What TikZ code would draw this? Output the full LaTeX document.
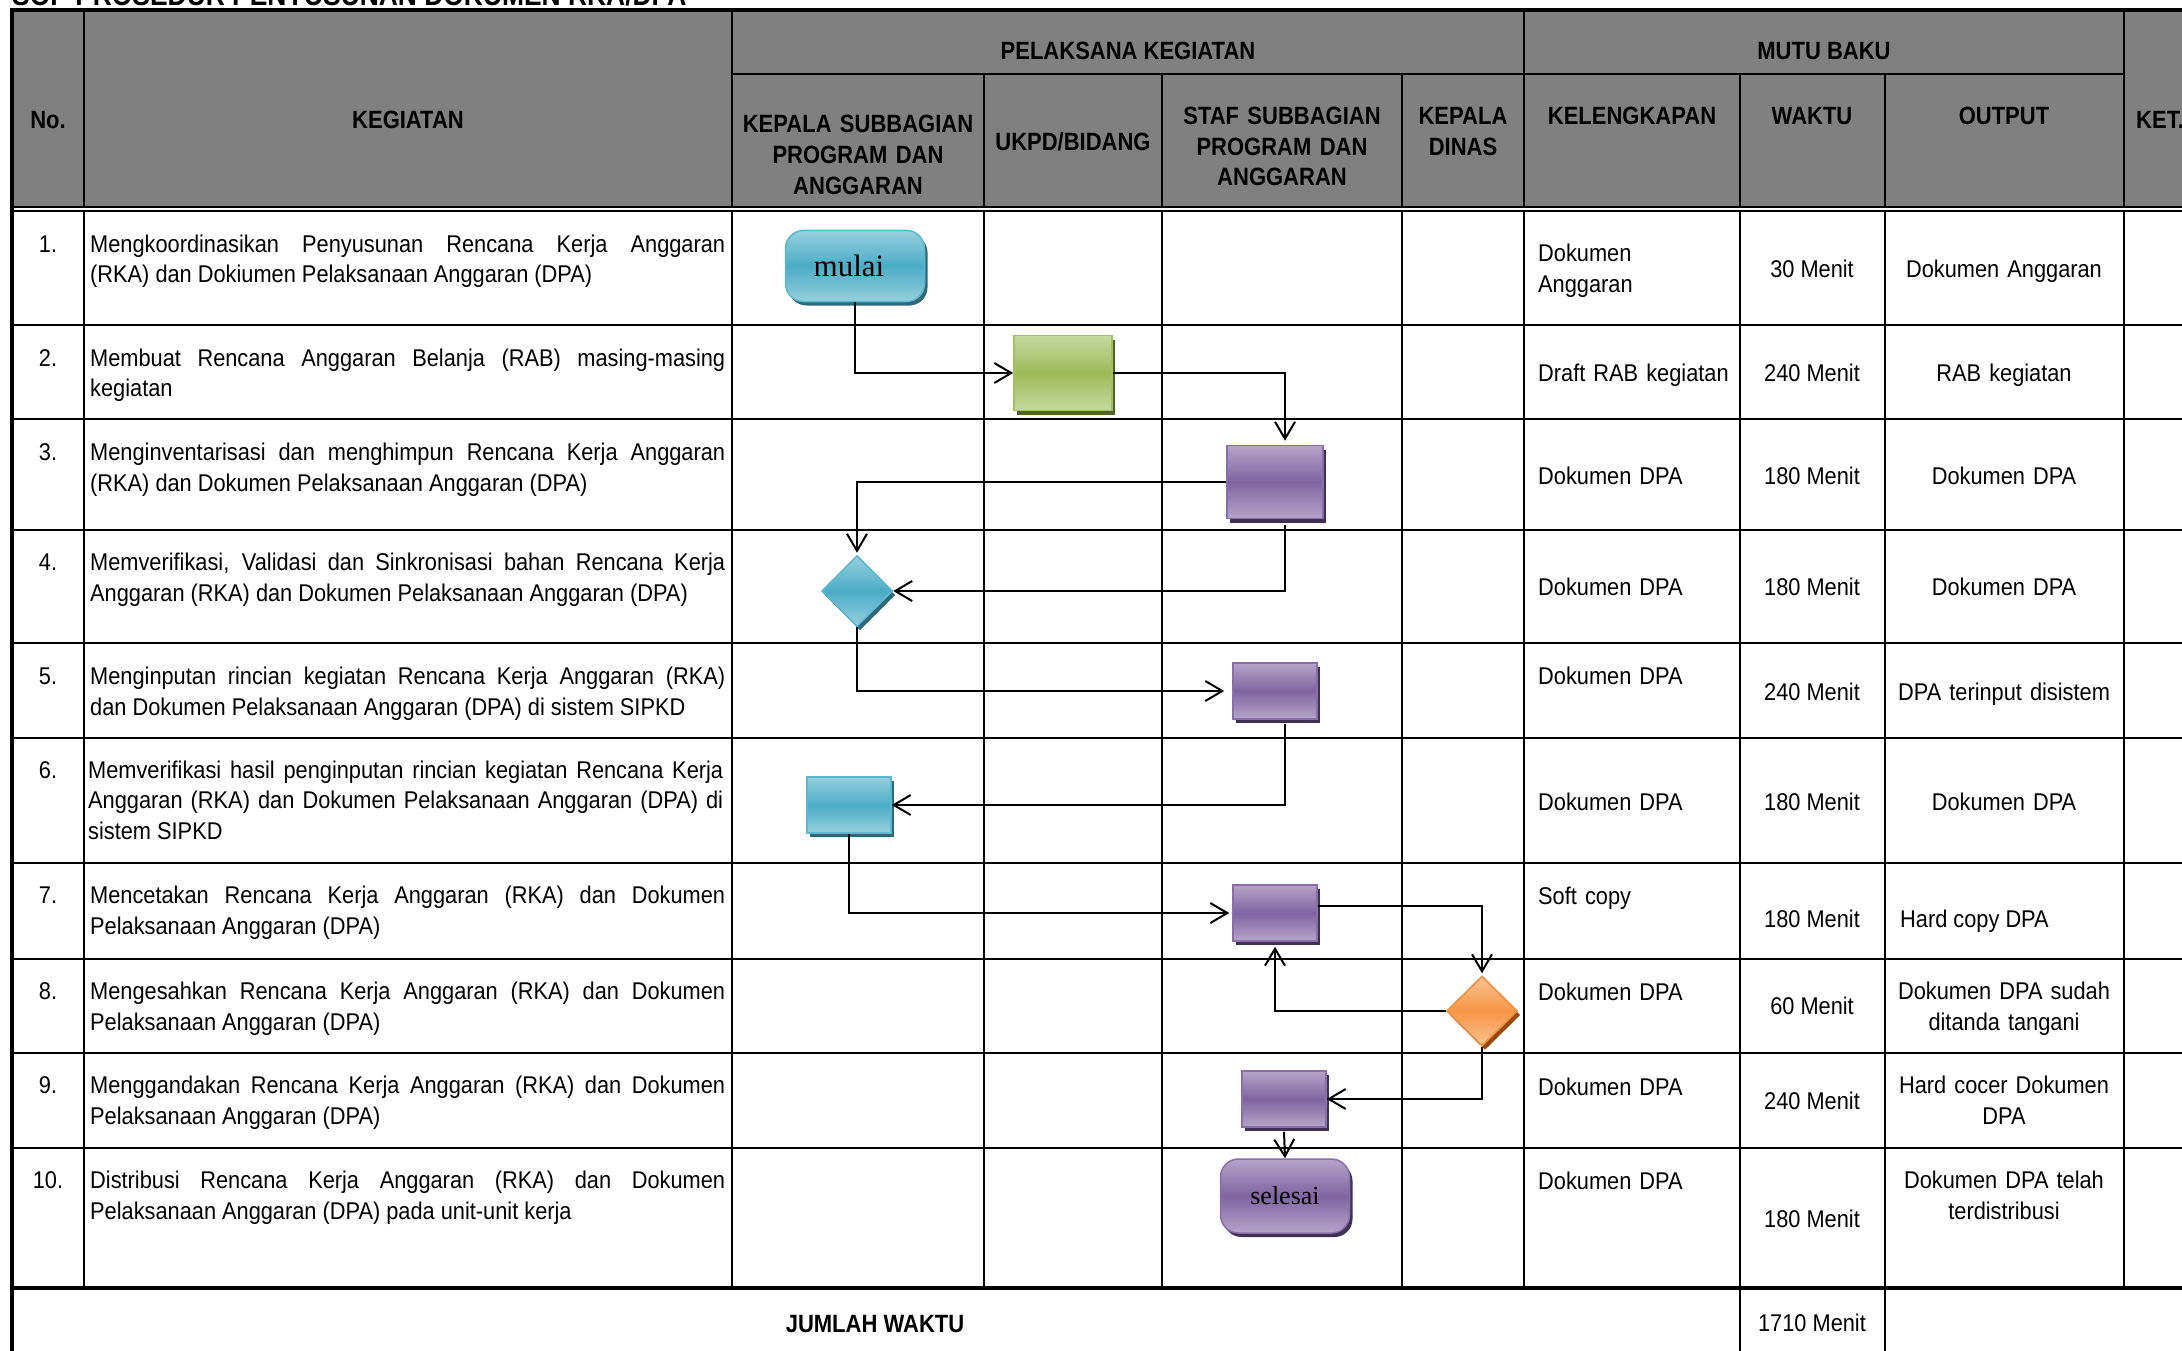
\documentclass[tikz,border=0pt]{standalone}
\usepackage{fontspec}
\setmainfont{Liberation Sans}
\newfontfamily\headfont{Liberation Sans}[FakeStretch=0.88]
\newfontfamily\cellfont{Liberation Sans}[FakeStretch=0.9]
\newfontfamily\termfont{Liberation Serif}
\usetikzlibrary{shapes.geometric,shadows,arrows.meta,calc}
\tolerance=10000
\hyphenpenalty=10000
\exhyphenpenalty=10000
\definecolor{hdrgray}{HTML}{808080}
\definecolor{tealmid}{HTML}{4BACC6}
\definecolor{teallight}{HTML}{96CFDF}
\definecolor{tealline}{HTML}{5DB8CF}
\definecolor{tealdark}{HTML}{2C6A7A}
\definecolor{greenmid}{HTML}{9BBB59}
\definecolor{greenlight}{HTML}{C6D9A0}
\definecolor{greenline}{HTML}{A2C060}
\definecolor{greendark}{HTML}{4F6228}
\definecolor{purplemid}{HTML}{8064A2}
\definecolor{purplelight}{HTML}{B4A4C9}
\definecolor{purpleline}{HTML}{8A6EAC}
\definecolor{purpledark}{HTML}{3F3151}
\definecolor{orangemid}{HTML}{F79646}
\definecolor{orangelight}{HTML}{FAC292}
\definecolor{orangeline}{HTML}{EE8F42}
\definecolor{orangedark}{HTML}{984807}
\tikzset{
	boxfill/.style={draw=#1line, line width=1.5pt,
		top color=#1light, bottom color=#1light, middle color=#1mid,
		drop shadow={shadow xshift=3pt, shadow yshift=-4pt, fill=#1dark, opacity=1}}
}

\begin{document}
\begin{tikzpicture}[x=1pt,y=-1pt]
			\tikzstyle{every node}+=[inner sep=0pt]
			\tikzstyle{grid}=[line width=2pt, line cap=rect]
			\tikzstyle{frame}=[line width=3.5pt, line cap=rect]
			\tikzstyle{hdr}=[font=\headfont\bfseries\fontsize{25}{30.6}\selectfont, align=center, anchor=base]
			\tikzstyle{cell}=[font=\cellfont\fontsize{24.2}{30.6}\selectfont]
			\tikzstyle{kegiatan}=[cell, text width=635pt, align=justify, anchor=base west]
			\tikzstyle{nomor}=[cell, anchor=base]
			\tikzstyle{lengkap}=[cell, text width=200pt, align=left, anchor=base west]
			\tikzstyle{waktu}=[cell, anchor=base]
			\tikzstyle{hasil}=[cell, text width=230pt, align=center, anchor=base]
			\tikzstyle{prosesbox}=[rectangle, minimum width=84pt, minimum height=56pt]
			\tikzstyle{terminal}=[rectangle, rounded corners=18pt, font=\termfont]
			\tikzstyle{cekbox}=[diamond, minimum width=71pt, minimum height=71pt]
			\tikzstyle{flow}=[line width=2pt, -{Straight Barb[length=17pt,width=20pt,line width=2pt]}]
			\useasboundingbox (0,0) rectangle (2182,1351);
			\fill [white] (0,0) rectangle (2182,1351);
			\fill [hdrgray] (12,10) rectangle (2200,207);
			\node [anchor=base west, font=\headfont\bfseries\fontsize{30}{30}\selectfont] (judul) at (12,5.5) {SOP PROSEDUR PENYUSUNAN DOKUMEN RKA/DPA};
			% garis tabel
			\foreach \y in {325,419,530,643,738,863,959,1053,1148}
				\draw [grid] (12,\y) -- (2200,\y);
			\foreach \x in {84,732,984,1162,1402,1524,1740,1885,2124}
				\draw [grid] (\x,211) -- (\x,1288);
			\foreach \x in {84,732,1524,2124}
				\draw [grid] (\x,10) -- (\x,207);
			\foreach \x in {984,1162,1402,1740,1885}
				\draw [grid] (\x,74) -- (\x,207);
			\draw [grid] (732,74) -- (2124,74);
			\draw [grid] (12,207) -- (2200,207);
			\draw [grid] (12,211) -- (2200,211);
			\draw [grid] (1740,1288) -- (1740,1360);
			\draw [grid] (1885,1288) -- (1885,1360);
			\draw [frame] (12,1288) -- (2200,1288);
			\draw [frame] (12,1360) -- (12,10) -- (2200,10);
			% kepala tabel
			\node [hdr] (hno) at (48,129) {No.};
			\node [hdr] (hkeg) at (408,129) {KEGIATAN};
			\node [hdr] (hpel) at (1128,60) {PELAKSANA KEGIATAN};
			\node [hdr] (hmutu) at (1824,60) {MUTU BAKU};
			\node [hdr, text width=250pt] (hkasub) at (858,133) {KEPALA SUBBAGIAN\\PROGRAM DAN\\ANGGARAN};
			\node [hdr] (hukpd) at (1073,151) {UKPD/BIDANG};
			\node [hdr, text width=240pt] (hstaf) at (1282,124.5) {STAF SUBBAGIAN\\PROGRAM DAN\\ANGGARAN};
			\node [hdr, text width=120pt] (hkadis) at (1463,124.5) {KEPALA\\DINAS};
			\node [hdr] (hleng) at (1632,124.5) {KELENGKAPAN};
			\node [hdr] (hwaktu) at (1812,124.5) {WAKTU};
			\node [hdr] (houtput) at (2004,124.5) {OUTPUT};
			\node [hdr, anchor=base west] (hket) at (2136,129) {KET.};
			% nomor dan kegiatan
			\node [nomor] (n1) at (48,252) {1.};
			\node [kegiatan] (k1) at (90,252) {Mengkoordinasikan Penyusunan Rencana Kerja Anggaran\linebreak (RKA) dan Dokiumen Pelaksanaan Anggaran (DPA)};
			\node [nomor] (n2) at (48,366) {2.};
			\node [kegiatan] (k2) at (90,366) {Membuat Rencana Anggaran Belanja (RAB) masing-masing\linebreak kegiatan};
			\node [nomor] (n3) at (48,460.5) {3.};
			\node [kegiatan] (k3) at (90,460.5) {Menginventarisasi dan menghimpun Rencana Kerja Anggaran\linebreak (RKA) dan Dokumen Pelaksanaan Anggaran (DPA)};
			\node [nomor] (n4) at (48,570.5) {4.};
			\node [kegiatan] (k4) at (90,570.5) {Memverifikasi, Validasi dan Sinkronisasi bahan Rencana Kerja\linebreak Anggaran (RKA) dan Dokumen Pelaksanaan Anggaran (DPA)};
			\node [nomor] (n5) at (48,684.5) {5.};
			\node [kegiatan] (k5) at (90,684.5) {Menginputan rincian kegiatan Rencana Kerja Anggaran (RKA)\linebreak dan Dokumen Pelaksanaan Anggaran (DPA) di sistem SIPKD};
			\node [nomor] (n6) at (48,778) {6.};
			\node [kegiatan] (k6) at (88,778) {Memverifikasi hasil penginputan rincian kegiatan Rencana Kerja\linebreak Anggaran (RKA) dan Dokumen Pelaksanaan Anggaran (DPA) di\linebreak sistem SIPKD};
			\node [nomor] (n7) at (48,903.5) {7.};
			\node [kegiatan] (k7) at (90,903.5) {Mencetakan Rencana Kerja Anggaran (RKA) dan Dokumen\linebreak Pelaksanaan Anggaran (DPA)};
			\node [nomor] (n8) at (48,999.5) {8.};
			\node [kegiatan] (k8) at (90,999.5) {Mengesahkan Rencana Kerja Anggaran (RKA) dan Dokumen\linebreak Pelaksanaan Anggaran (DPA)};
			\node [nomor] (n9) at (48,1093.5) {9.};
			\node [kegiatan] (k9) at (90,1093.5) {Menggandakan Rencana Kerja Anggaran (RKA) dan Dokumen\linebreak Pelaksanaan Anggaran (DPA)};
			\node [nomor] (n10) at (48,1188.5) {10.};
			\node [kegiatan] (k10) at (90,1188.5) {Distribusi Rencana Kerja Anggaran (RKA) dan Dokumen\linebreak Pelaksanaan Anggaran (DPA) pada unit-unit kerja};
			% mutu baku
			\node [lengkap] (l1) at (1538,261.5) {Dokumen\\Anggaran};
			\node [lengkap] (l2) at (1538,381.5) {Draft RAB kegiatan};
			\node [lengkap] (l3) at (1538,484.5) {Dokumen DPA};
			\node [lengkap] (l4) at (1538,595.5) {Dokumen DPA};
			\node [lengkap] (l5) at (1538,684.5) {Dokumen DPA};
			\node [lengkap] (l6) at (1538,810) {Dokumen DPA};
			\node [lengkap] (l7) at (1538,904.5) {Soft copy};
			\node [lengkap] (l8) at (1538,1000.5) {Dokumen DPA};
			\node [lengkap] (l9) at (1538,1095.5) {Dokumen DPA};
			\node [lengkap] (l10) at (1538,1189.5) {Dokumen DPA};
			\node [waktu] (w1) at (1812,277) {30 Menit};
			\node [waktu] (w2) at (1812,381.5) {240 Menit};
			\node [waktu] (w3) at (1812,484.5) {180 Menit};
			\node [waktu] (w4) at (1812,595.5) {180 Menit};
			\node [waktu] (w5) at (1812,700) {240 Menit};
			\node [waktu] (w6) at (1812,810) {180 Menit};
			\node [waktu] (w7) at (1812,927) {180 Menit};
			\node [waktu] (w8) at (1812,1014.5) {60 Menit};
			\node [waktu] (w9) at (1812,1109.5) {240 Menit};
			\node [waktu] (w10) at (1812,1227.5) {180 Menit};
			\node [hasil] (o1) at (2004,277) {Dokumen Anggaran};
			\node [hasil] (o2) at (2004,381.5) {RAB kegiatan};
			\node [hasil] (o3) at (2004,484.5) {Dokumen DPA};
			\node [hasil] (o4) at (2004,595.5) {Dokumen DPA};
			\node [hasil] (o5) at (2004,700) {DPA terinput disistem};
			\node [hasil] (o6) at (2004,810) {Dokumen DPA};
			\node [cell, anchor=base west] (o7) at (1900,927) {Hard copy DPA};
			\node [hasil] (o8) at (2004,999.5) {Dokumen DPA sudah\\ditanda tangani};
			\node [hasil] (o9) at (2004,1093.5) {Hard cocer Dokumen\\DPA};
			\node [hasil] (o10) at (2004,1188.5) {Dokumen DPA telah\\terdistribusi};
			\node [hdr] (jumlah) at (875,1332) {JUMLAH WAKTU};
			\node [waktu] (total) at (1812,1331.5) {1710 Menit};
			% bagan alir
			\node [terminal, boxfill=teal, minimum width=139pt, minimum height=71pt, font=\termfont\fontsize{31}{31}\selectfont] (mulai) at (855,266) {\hspace*{-12pt}mulai};
			\node [prosesbox, boxfill=green, minimum width=98pt, minimum height=75pt] (rab) at (1063,373) {};
			\node [prosesbox, boxfill=purple, minimum width=96pt, minimum height=73pt] (staf1) at (1275,482) {};
			\node [cekbox, boxfill=teal] (cek1) at (857,591) {};
			\node [prosesbox, boxfill=purple] (staf2) at (1275,691) {};
			\node [prosesbox, boxfill=teal] (verif) at (849,805) {};
			\node [prosesbox, boxfill=purple] (staf3) at (1275,913) {};
			\node [cekbox, boxfill=orange, minimum height=70pt] (sah) at (1482,1011) {};
			\node [prosesbox, boxfill=purple] (staf4) at (1284,1099) {};
			\node [terminal, boxfill=purple, minimum width=129pt, minimum height=74pt, font=\termfont\fontsize{26}{26}\selectfont] (selesai) at (1285,1196) {selesai};
			\draw [flow] (mulai.south) |- (rab.west);
			\draw [flow, shorten >=4pt] (rab.east) -| ($(staf1.north)+(10,0)$);
			\draw [flow, shorten >=2pt] (staf1.west) -| (cek1.north);
			\draw [flow] ($(staf1.south)+(10,6)$) |- (cek1.east);
			\draw [flow, shorten >=8pt] (cek1.south) |- (staf2.west);
			\draw [flow] ($(staf2.south)+(10,4)$) |- (verif.east);
			\draw [flow, shorten >=3pt] (verif.south) |- (staf3.west);
			\draw [flow, shorten >=2pt] ($(staf3.east)+(0,-7)$) -| (sah.north);
			\draw [flow] (sah.west) -| ($(staf3.south)+(0,5)$);
			\draw [flow] (sah.south) |- (staf4.east);
			\draw [flow] ($(staf4.south)+(0,4)$) -- (selesai.north);
		\end{tikzpicture}
\end{document}
